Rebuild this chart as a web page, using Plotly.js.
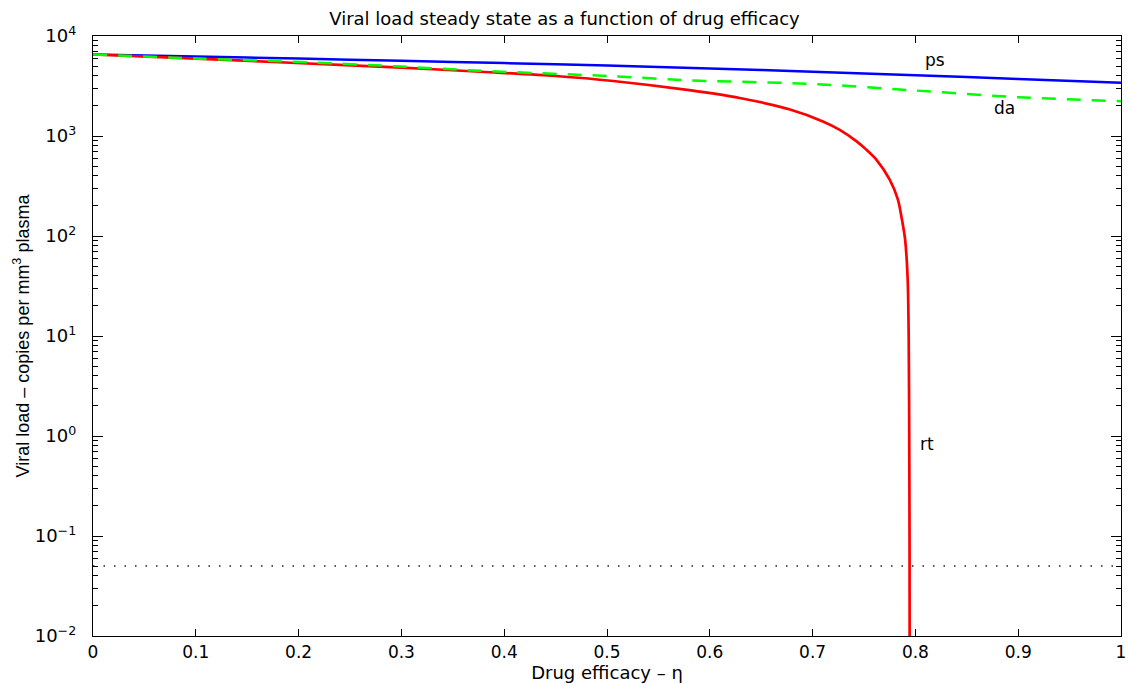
<!DOCTYPE html>
<html>
<head>
<meta charset="utf-8">
<script src="https://cdn.plot.ly/plotly-3.0.1.min.js"></script>
<style>html,body{margin:0;padding:0;background:#fff;}#chart{width:1129px;height:684px;}</style>
</head>
<body>
<div id="chart"></div>
<script>
// Series data
const psEta = [0, 0.1, 0.2, 0.3, 0.4, 0.5, 0.6, 0.7, 0.8, 0.9, 1.0];
const psLoad = [6530, 6230, 5940, 5650, 5360, 5060, 4740, 4400, 4050, 3720, 3400];

const daEta = [0, 0.1, 0.192, 0.3, 0.37, 0.506, 0.58, 0.7, 0.8, 0.9, 1.0];
const daLoad = [6530, 5950, 5550, 4950, 4520, 3960, 3600, 3320, 2850, 2440, 2230];

const rtEta = [0, 0.1, 0.192, 0.3, 0.386, 0.45, 0.506, 0.58, 0.629, 0.678, 0.710, 0.726, 0.7425, 0.752, 0.762, 0.775, 0.783, 0.7869, 0.790, 0.7925, 0.7935, 0.794, 0.7943, 0.7945];
const rtLoad = [6530, 5950, 5400, 4820, 4340, 3980, 3550, 2870, 2400, 1840, 1400, 1160, 890, 735, 581, 366, 231, 146, 92, 36.6, 9.2, 1, 0.1, 0.001];

const thresholdEta = [0, 1];
const thresholdLoad = [0.05, 0.05];

const yTickVals = [0.01, 0.1, 1, 10, 100, 1000, 10000];
const yTickText = ['10<sup>−2</sup>', '10<sup>−1</sup>', '10<sup>0</sup>', '10<sup>1</sup>', '10<sup>2</sup>', '10<sup>3</sup>', '10<sup>4</sup>'];
const xTickVals = [0, 0.1, 0.2, 0.3, 0.4, 0.5, 0.6, 0.7, 0.8, 0.9, 1];
const xTickText = ['0', '0.1', '0.2', '0.3', '0.4', '0.5', '0.6', '0.7', '0.8', '0.9', '1'];

const labels = [
  {name: 'ps', eta: 0.819, load: 5690},
  {name: 'da', eta: 0.887, load: 1925},
  {name: 'rt', eta: 0.811, load: 0.834}
];

// minor tick positions for log axis
const minorVals = [];
for (let e = -2; e < 4; e++) for (let m = 2; m <= 9; m++) minorVals.push(m * Math.pow(10, e));

const traces = [
  {x: thresholdEta, y: thresholdLoad, mode: 'lines', line: {color: '#222', width: 1.5, dash: '1.5px,9px'}, hoverinfo: 'skip'},
  {x: psEta, y: psLoad, mode: 'lines', line: {color: '#0000ff', width: 2.5, shape: 'spline', smoothing: 0.6}, name: 'ps'},
  {x: rtEta, y: rtLoad, mode: 'lines', line: {color: '#ff0000', width: 2.7, shape: 'spline', smoothing: 0.8}, name: 'rt'},
  {x: daEta, y: daLoad, mode: 'lines', line: {color: '#00ff00', width: 2.5, dash: '14px,11px', shape: 'spline', smoothing: 0.6}, name: 'da'}
];

const hFont = 'DejaVu Sans, Verdana, sans-serif';
const vFont = 'Liberation Sans, Arial, sans-serif';

const layout = {
  width: 1129, height: 684,
  margin: {l: 93, r: 8, t: 36, b: 48},
  paper_bgcolor: 'white', plot_bgcolor: 'white',
  showlegend: false,
  font: {family: hFont, size: 17, color: 'black'},
  title: {text: 'Viral load steady state as a function of drug efficacy', font: {family: hFont, size: 18, color: 'black'}, x: 0.5, xanchor: 'center', y: 0.973, yanchor: 'middle'},
  xaxis: {
    range: [0, 1], tickmode: 'array', tickvals: xTickVals, ticktext: xTickText,
    ticks: 'inside', ticklen: 7, tickcolor: 'black', tickwidth: 1,
    showline: true, linecolor: 'black', linewidth: 1.2, mirror: 'ticks',
    showgrid: false, zeroline: false,
    tickfont: {family: hFont, size: 17, color: 'black'},
    title: {text: 'Drug efficacy – η', font: {family: hFont, size: 18, color: 'black'}, standoff: 0}
  },
  yaxis: {
    type: 'log', range: [-2, 4], tickmode: 'array', tickvals: yTickVals, ticktext: yTickText,
    ticks: 'inside', ticklen: 10, tickcolor: 'black', tickwidth: 1,
    ticklabelstandoff: 12,
    minor: {tickmode: 'array', tickvals: minorVals, ticks: 'inside', ticklen: 5, tickcolor: 'black', showgrid: false},
    showline: true, linecolor: 'black', linewidth: 1.2, mirror: 'ticks',
    showgrid: false, zeroline: false,
    tickfont: {family: hFont, size: 18, color: 'black'},
    title: {text: 'Viral load – copies per mm<sup>3</sup> plasma', font: {family: vFont, size: 18, color: 'black'}, standoff: 0}
  },
  annotations: labels.map(l => ({
    x: l.eta, y: Math.log10(l.load), xref: 'x', yref: 'y', text: l.name, showarrow: false,
    font: {family: hFont, size: 17, color: 'black'}, xanchor: 'center', yanchor: 'middle'
  }))
};

Plotly.newPlot('chart', traces, layout, {displayModeBar: false, staticPlot: true});
</script>
</body>
</html>
